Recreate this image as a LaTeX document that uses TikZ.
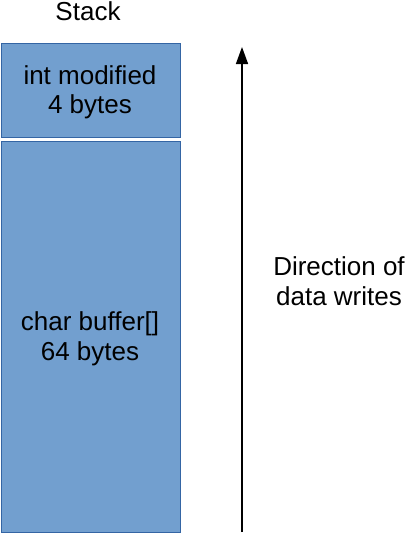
\documentclass[tikz,border=0pt]{standalone}
\usepackage{fontspec}
\setmainfont{Liberation Sans}
\usetikzlibrary{arrows.meta}
\definecolor{boxfill}{HTML}{729FCF}
\definecolor{boxline}{HTML}{3465A4}
\begin{document}
\begin{tikzpicture}[x=1pt,y=-1pt,
  mem/.style={draw=boxline,fill=boxfill,line width=0.8pt},
  lbl/.style={font=\fontsize{26}{29.5}\selectfont,align=center,inner sep=0pt}]
\useasboundingbox (0,0) rectangle (405,533);
\path[mem] (1,43) rectangle (180,137);
\path[mem] (1,141) rectangle (180,532);
\node[lbl] (stack) at (88,11.5) {Stack};
\node[lbl] (intmod) at (90,92.5) {int modified\\4 bytes};
\node[lbl] (buf) at (90,339) {char buffer[]\\64 bytes};
\coordinate (abot) at (242,532);
\coordinate (atop) at (242,47);
\draw[line width=1.5pt,-{Triangle[width=12pt,length=17pt]}] (abot) -- (atop);
\node[lbl] (dir) at (339,281) {Direction of\\data writes};
\end{tikzpicture}
\end{document}
